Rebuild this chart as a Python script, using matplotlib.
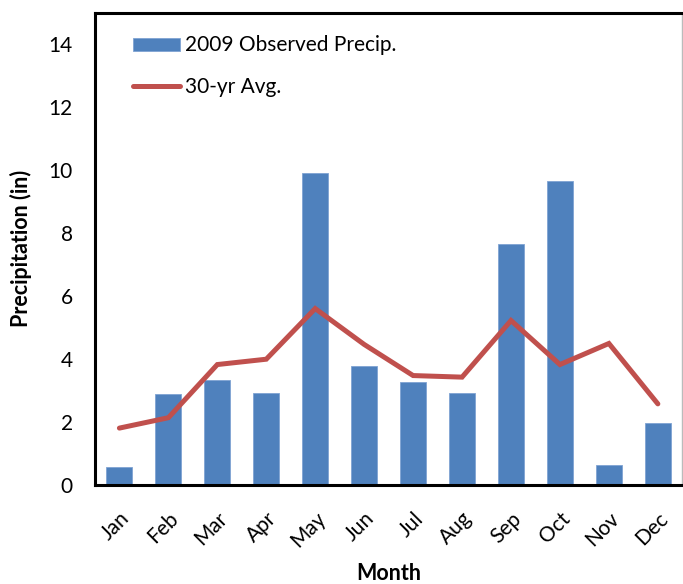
import matplotlib.pyplot as plt

plt.rcParams['font.family'] = ['Lato', 'DejaVu Sans']

months = ['Jan', 'Feb', 'Mar', 'Apr', 'May', 'Jun',
          'Jul', 'Aug', 'Sep', 'Oct', 'Nov', 'Dec']
observed_2009 = [0.57, 2.87, 3.32, 2.93, 9.90, 3.77, 3.27, 2.93, 7.65, 9.66, 0.63, 1.97]
avg_30yr = [1.80, 2.13, 3.82, 3.99, 5.60, 4.46, 3.47, 3.42, 5.22, 3.82, 4.49, 2.57]

x = range(len(months))

fig = plt.figure(figsize=(6.83, 5.84), dpi=100)
ax = fig.add_axes([0.139, 0.170, 0.860, 0.808])

bars = ax.bar(x, observed_2009, width=0.53, color='#4F81BD', edgecolor='#7FA3D3',
              linewidth=0.6, label='2009 Observed Precip.', zorder=2)
line, = ax.plot(x, avg_30yr, color='#C0504D', linewidth=3.6, solid_capstyle='round',
                solid_joinstyle='miter', label='30-yr Avg.', zorder=3)

ax.set_xlim(-0.5, 11.5)
ax.set_ylim(0, 15)
ax.set_yticks(range(0, 15, 2))
ax.set_xticks(list(x))
ax.set_xticklabels(months, rotation=45, ha='right', rotation_mode='anchor', fontsize=15)
ax.tick_params(axis='y', labelsize=15, length=0, pad=16)
ax.tick_params(axis='x', length=0, pad=17)

for side in ['left', 'top', 'bottom']:
    ax.spines[side].set_linewidth(2.2)
    ax.spines[side].set_color('black')
ax.spines['right'].set_linewidth(1)
ax.spines['right'].set_color('#BBBBBB')

ax.set_ylabel('Precipitation (in)', fontsize=15.5, fontweight='bold', labelpad=12)
ax.set_xlabel('Month', fontsize=15.5, fontweight='bold')
ax.xaxis.set_label_coords(0.5, -0.189)
ax.xaxis.label.set_va('center')

# bars first, then the average line
ax.legend([bars, line], ['2009 Observed Precip.', '30-yr Avg.'],
          loc='upper left', frameon=False, fontsize=15, handlelength=2.3,
          handleheight=0.6, handletextpad=0.2, labelspacing=1.05,
          borderpad=0, borderaxespad=0, bbox_to_anchor=(0.064, 0.952))

fig.savefig('out.png', dpi=100)
